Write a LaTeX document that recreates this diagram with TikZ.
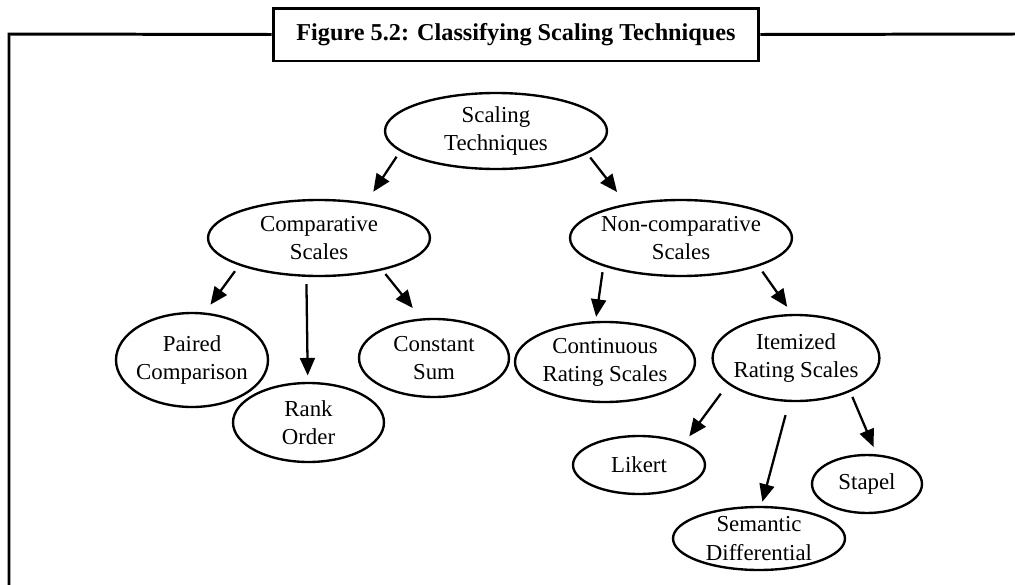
\documentclass[tikz,border=0pt]{standalone}
\usepackage{fontspec}
\setmainfont{Liberation Serif}
\usepackage{tikz}
\usetikzlibrary{shapes.geometric,arrows.meta}

\begin{document}
\begin{tikzpicture}[x=0.02cm, y=-0.02cm,
    scale_node/.style={ellipse, draw, line width=1.35pt, inner sep=-2pt, align=center, font=\fontsize{13}{16}\selectfont},
    title_node/.style={rectangle, draw, fill=white, line width=1.7pt, minimum width=9.72cm, minimum height=1.06cm, font=\fontsize{13.8}{16}\selectfont\bfseries},
    arrow_edge/.style={-{Triangle[length=10pt,width=8.5pt]}, line width=1.3pt}]

    \useasboundingbox (0,0) rectangle (1015,585);

    % frame and title
    \coordinate (tl) at (9,34);
    \coordinate (bl) at (9,585);
    \coordinate (tr) at (1015,34);
    \node[title_node] (title) at (516,34.5) {Figure 5.2: Classifying Scaling Techniques};
    \draw[line width=1.7pt] (bl) -- (tl) -- (title.west);
    \draw[line width=1.7pt] (title.east) -- (tr);

    \node[scale_node, minimum width=4.44cm, minimum height=1.52cm] (st) at (496,131) {Scaling\\Techniques};
    \node[scale_node, minimum width=4.44cm, minimum height=1.52cm] (cs) at (319,238) {Comparative\\Scales};
    \node[scale_node, minimum width=4.44cm, minimum height=1.52cm] (ncs) at (681,238) {Non-comparative\\Scales};
    \node[scale_node, minimum width=3.04cm, minimum height=1.88cm] (pc) at (192,360) {Paired\\Comparison};
    \node[scale_node, minimum width=3.02cm, minimum height=1.58cm] (ro) at (308.5,422.5) {Rank\\Order};
    \node[scale_node, minimum width=3cm, minimum height=1.56cm] (cos) at (434,358) {Constant\\Sum};
    \node[scale_node, minimum width=3.6cm, minimum height=1.6cm] (crs) at (605,362) {Continuous\\Rating Scales};
    \node[scale_node, minimum width=3.28cm, minimum height=1.72cm] (irs) at (796,358) {Itemized\\Rating Scales};
    \node[scale_node, minimum width=2.64cm, minimum height=1.16cm] (lk) at (639,465) {Likert};
    \node[scale_node, minimum width=3.44cm, minimum height=1.26cm] (sd) at (759,538.5) {Semantic\\Differential};
    \node[scale_node, minimum width=2.2cm, minimum height=1.16cm] (sp) at (867,484) {Stapel};

    \draw[arrow_edge, shorten <=3.7pt, shorten >=7.3pt] (st.192.5) -- (cs.37.5);
    \draw[arrow_edge, shorten <=2.7pt, shorten >=8.5pt] (st.346) -- (ncs.148);
    \draw[arrow_edge, shorten <=4pt, shorten >=5.5pt] (cs.199.7) -- (pc.75.6);
    \draw[arrow_edge, shorten <=4.1pt, shorten >=3.6pt] (cs.252.4) -- (ro.91.4);
    \draw[arrow_edge, shorten <=2.7pt, shorten >=7.6pt] (cs.333.6) -- (cos.108.4);
    \draw[arrow_edge, shorten <=3.4pt, shorten >=2.4pt] (ncs.200.6) -- (crs.103.8);
    \draw[arrow_edge, shorten <=3.7pt, shorten >=4.9pt] (ncs.340.1) -- (irs.95.4);
    \draw[arrow_edge, shorten <=6.7pt, shorten >=4.6pt] (irs.201.4) -- (lk.26.2);
    \draw[arrow_edge, shorten <=7.7pt, shorten >=2.4pt] (irs.261.2) -- (sd.86.5);
    \draw[arrow_edge, shorten <=3.1pt, shorten >=4.5pt] (irs.328.1) -- (sp.72.3);
\end{tikzpicture}
\end{document}
